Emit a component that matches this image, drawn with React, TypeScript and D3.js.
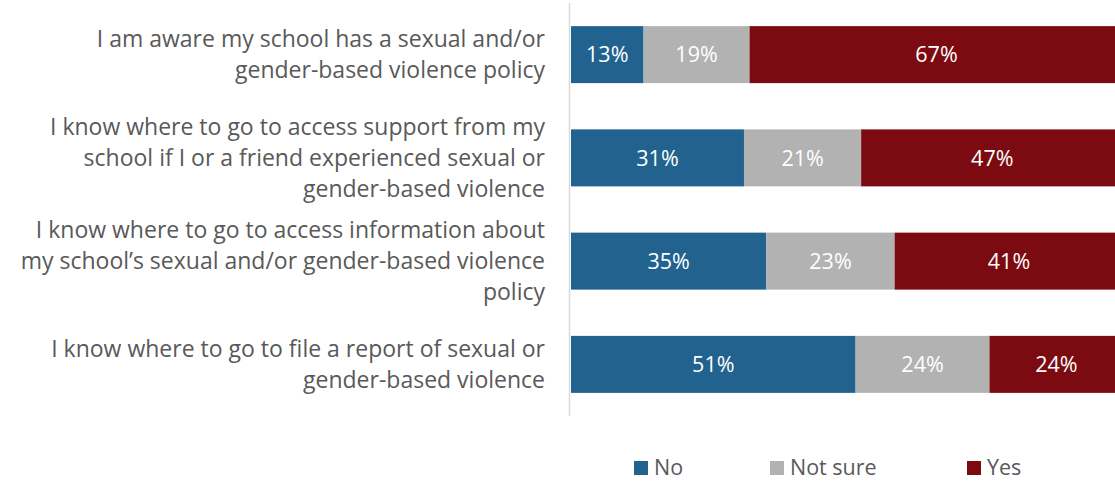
import React from "react";
import * as d3 from "d3";

const categories = [
  ["I am aware my school has a sexual and/or", "gender-based violence policy"],
  ["I know where to go to access support from my", "school if I or a friend experienced sexual or", "gender-based violence"],
  ["I know where to go to access information about", "my school\u2019s sexual and/or gender-based violence", "policy"],
  ["I know where to go to file a report of sexual or", "gender-based violence"],
];
const seriesNames = ["No", "Not sure", "Yes"];
const noValues = [13, 31, 35, 51];
const notSureValues = [19, 21, 23, 24];
const yesValues = [67, 47, 41, 24];
const colors = ["#21628f", "#b2b2b2", "#7b0b10"];

const W = 1115;
const H = 481;
const FONT = "'Open Sans', sans-serif";

export default function App() {
  const x = d3.scaleLinear().domain([0, 100]).range([571, 1129]);
  const idx = categories.map((_, i) => i);
  const y = d3.scaleBand<number>().domain(idx).range([3, 416]).paddingInner(0.448).paddingOuter(0.224);
  const series = [noValues, notSureValues, yesValues];
  const rows = idx.map((i) => {
    let acc = 0;
    return series.map((s, k) => {
      const x0 = acc;
      acc += s[i];
      return { k, x0, x1: acc, v: s[i] };
    });
  });
  const legendX = [634, 770, 967];
  const lineH = 31;
  return (
    <svg width={W} height={H} style={{ position: "absolute", left: 0, top: 0, background: "#fff" }} fontFamily={FONT}>
      {rows.map((row, i) => (
        <g key={i}>
          {row.map((seg) => (
            <g key={seg.k}>
              <rect x={x(seg.x0)} y={y(i)} width={x(seg.x1) - x(seg.x0)} height={y.bandwidth()} fill={colors[seg.k]} />
              <text x={(x(seg.x0) + x(seg.x1)) / 2} y={y(i)! + y.bandwidth() / 2} dy="0.36em" textAnchor="middle" fill="#fff" fontSize={21.5}>
                {seg.v}%
              </text>
            </g>
          ))}
          {categories[i].map((line, j) => (
            <text key={j} x={545} y={y(i)! + y.bandwidth() / 2 + (j - (categories[i].length - 1) / 2) * lineH} dy="0.36em" textAnchor="end" fill="#595959" fontSize={23}>
              {line}
            </text>
          ))}
        </g>
      ))}
      <line x1={569.5} x2={569.5} y1={3} y2={416} stroke="#d9d9d9" strokeWidth={1.5} />
      {seriesNames.map((n, k) => (
        <g key={n}>
          <rect x={legendX[k]} y={461} width={14} height={14} fill={colors[k]} />
          <text x={legendX[k] + 20} y={467} dy="0.36em" fill="#595959" fontSize={21.5}>
            {n}
          </text>
        </g>
      ))}
    </svg>
  );
}
